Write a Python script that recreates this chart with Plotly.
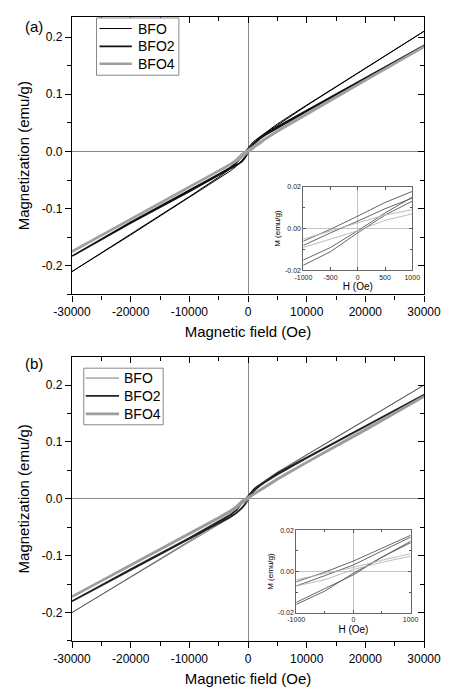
import plotly.graph_objects as go

# ---------------- data ----------------
H = [-30000, -20000, -10000, -5000, -3000, -2000, -1500, -1000, -500, 0,
     500, 1000, 1500, 2000, 3000, 5000, 10000, 20000, 30000]
series_names = ["BFO", "BFO2", "BFO4"]

# panel (a): descending / ascending branches (values at H, in ascending-H order)
a_bfo_desc = [-0.210, -0.144, -0.079, -0.045, -0.030, -0.021, -0.0135, -0.0060, -0.0003, 0.0060,
              0.0125, 0.0178, 0.022, 0.026, 0.033, 0.048, 0.081, 0.146, 0.210]
a_bfo_asc = [-0.210, -0.146, -0.081, -0.048, -0.034, -0.026, -0.021, -0.0150, -0.0090, -0.0010,
             0.0075, 0.0150, 0.020, 0.025, 0.032, 0.046, 0.080, 0.145, 0.210]
a_bfo2_desc = [-0.183, -0.124, -0.068, -0.040, -0.028, -0.020, -0.014, -0.0080, -0.0020, 0.0036,
               0.0095, 0.0146, 0.019, 0.023, 0.030, 0.043, 0.071, 0.128, 0.185]
a_bfo2_asc = [-0.183, -0.125, -0.070, -0.042, -0.031, -0.024, -0.021, -0.0175, -0.0110, -0.0020,
              0.0065, 0.0131, 0.018, 0.022, 0.029, 0.041, 0.070, 0.127, 0.185]
a_bfo4_desc = [-0.175, -0.118, -0.062, -0.034, -0.022, -0.015, -0.010, -0.0050, -0.0010, 0.0028,
               0.0065, 0.0091, 0.012, 0.016, 0.023, 0.036, 0.066, 0.125, 0.183]
a_bfo4_asc = [-0.175, -0.119, -0.063, -0.035, -0.024, -0.017, -0.013, -0.0090, -0.0050, -0.0010,
              0.0040, 0.0075, 0.011, 0.014, 0.022, 0.035, 0.065, 0.124, 0.183]

# panel (b)
b_bfo_desc = [-0.200, -0.137, -0.074, -0.042, -0.029, -0.020, -0.013, -0.0050, -0.0003, 0.0051,
              0.0115, 0.0176, 0.022, 0.026, 0.033, 0.047, 0.078, 0.139, 0.200]
b_bfo_asc = [-0.200, -0.138, -0.076, -0.045, -0.033, -0.025, -0.020, -0.0150, -0.0085, -0.0016,
             0.0070, 0.0147, 0.020, 0.024, 0.031, 0.045, 0.077, 0.138, 0.200]
b_bfo2_desc = [-0.180, -0.124, -0.069, -0.040, -0.028, -0.020, -0.014, -0.0070, -0.0020, 0.0032,
               0.0100, 0.0167, 0.021, 0.025, 0.031, 0.045, 0.073, 0.128, 0.183]
b_bfo2_asc = [-0.180, -0.125, -0.070, -0.043, -0.032, -0.025, -0.021, -0.0160, -0.0095, -0.0008,
              0.0070, 0.0140, 0.019, 0.023, 0.030, 0.043, 0.072, 0.127, 0.183]
b_bfo4_desc = [-0.172, -0.116, -0.061, -0.033, -0.021, -0.014, -0.009, -0.0040, -0.0010, 0.0020,
               0.0055, 0.0087, 0.012, 0.015, 0.022, 0.035, 0.065, 0.122, 0.180]
b_bfo4_asc = [-0.172, -0.117, -0.062, -0.034, -0.023, -0.016, -0.011, -0.0070, -0.0040, 0.0010,
              0.0045, 0.0080, 0.011, 0.014, 0.021, 0.034, 0.064, 0.121, 0.180]

x_ticks = [-30000, -20000, -10000, 0, 10000, 20000, 30000]
y_ticks = [-0.2, -0.1, 0.0, 0.1, 0.2]
inset_a_xticks = [-1000, -500, 0, 500, 1000]
inset_b_xticks = [-1000, 0, 1000]
inset_yticks = [-0.02, 0.0, 0.02]


def loop(desc, asc):
    return H[::-1] + H, desc[::-1] + asc


FONT = "Liberation Sans, Arial, sans-serif"

W, Ht = 453, 696
L, R, T, B = 72, 22, 15, 48
ph = Ht - T - B


def py(pix):
    return (Ht - B - pix) / ph


def px(pix):
    return (pix - L) / (W - L - R)


panels = [
    dict(xa="x", ya="y", xi="x3", yi="y3",
         data=[(a_bfo_desc, a_bfo_asc), (a_bfo2_desc, a_bfo2_asc), (a_bfo4_desc, a_bfo4_asc)],
         styles=[dict(color="#000000", width=1.0), dict(color="#111111", width=1.7), dict(color="#a0a0a0", width=2.6)],
         leg=dict(box=(97, 17, 181, 75), line=(100, 133), text=137, rows=(27.7, 45.7, 63.3))),
    dict(xa="x2", ya="y2", xi="x4", yi="y4",
         data=[(b_bfo_desc, b_bfo_asc), (b_bfo2_desc, b_bfo2_asc), (b_bfo4_desc, b_bfo4_asc)],
         styles=[dict(color="#555555", width=0.8), dict(color="#222222", width=1.8), dict(color="#9c9c9c", width=2.6)],
         leg=dict(box=(84, 371.7, 165, 429), line=(86, 120), text=123, rows=(381.7, 399.8, 418))),
]
inset_styles = [dict(color="#555555", width=0.9), dict(color="#555555", width=0.9), dict(color="#b4b4b4", width=0.9)]

fig = go.Figure()
shapes = []
annotations = []
for p in panels:
    lg = p["leg"]
    x0, y0, x1, y1 = lg["box"]
    shapes.append(dict(type="rect", xref="paper", yref="paper", x0=px(x0), x1=px(x1),
                       y0=py(y1), y1=py(y0), line=dict(color="#888888", width=1),
                       fillcolor="white", layer="above"))
    for name, (d, a), st, ist, ry in zip(series_names, p["data"], p["styles"], inset_styles, lg["rows"]):
        xx, yy = loop(d, a)
        fig.add_trace(go.Scatter(x=xx, y=yy, mode="lines", name=name, line=st, showlegend=False,
                                 xaxis=p["xa"], yaxis=p["ya"]))
        fig.add_trace(go.Scatter(x=xx, y=yy, mode="lines", line=ist, showlegend=False, name=name,
                                 xaxis=p["xi"], yaxis=p["yi"]))
        shapes.append(dict(type="line", xref="paper", yref="paper", x0=px(lg["line"][0]),
                           x1=px(lg["line"][1]), y0=py(ry), y1=py(ry),
                           line=dict(color=st["color"], width=st["width"]), layer="above"))
        annotations.append(dict(text=name, x=px(lg["text"]), y=py(ry), xref="paper", yref="paper",
                                xanchor="left", yanchor="middle", showarrow=False,
                                font=dict(size=14, color="black", family=FONT)))

# dummy traces for mirrored top/right axes with inward ticks
for xa, ya in [("x5", "y5"), ("x6", "y6")]:
    fig.add_trace(go.Scatter(x=[0], y=[0], mode="markers", marker=dict(opacity=0),
                             showlegend=False, hoverinfo="skip", xaxis=xa, yaxis=ya))


def fmt(v, nd):
    return f"{v:.{nd}f}"


dom_a = [py(297), py(16)]
dom_b = [0.0, py(360)]
xr = [-30000, 30000]
yr_a = [-0.25, 0.235]
yr_b = [-0.25, 0.25]

main_x = dict(range=xr, tickvals=x_ticks, ticktext=[str(v) for v in x_ticks], ticks="outside",
              ticklen=6, tickwidth=1, tickcolor="black", showline=True, linecolor="black",
              linewidth=1.2, showgrid=False, zeroline=True, zerolinecolor="#8a8a8a",
              zerolinewidth=1, tickfont=dict(size=12, color="black", family=FONT),
              minor=dict(tickvals=[-25000, -15000, -5000, 5000, 15000, 25000], ticks="outside",
                         ticklen=4, tickcolor="black", showgrid=False),
              title=dict(text="Magnetic field (Oe)", font=dict(size=15, color="black", family=FONT), standoff=8))
main_y = dict(tickvals=y_ticks, ticktext=[fmt(v, 1) for v in y_ticks], ticks="outside",
              ticklen=6, tickwidth=1, tickcolor="black", showline=True, linecolor="black",
              linewidth=1.2, showgrid=False, zeroline=True, zerolinecolor="#8a8a8a",
              zerolinewidth=1, tickfont=dict(size=12, color="black", family=FONT),
              minor=dict(tickvals=[-0.25, -0.15, -0.05, 0.05, 0.15], ticks="outside",
                         ticklen=4, tickcolor="black", showgrid=False),
              title=dict(text="Magnetization (emu/g)", font=dict(size=15, color="black", family=FONT), standoff=8))

mirror_x = dict(range=xr, tickvals=x_ticks, ticks="inside", ticklen=6, tickcolor="black",
                showticklabels=False, showline=True, linecolor="black", linewidth=1.2,
                showgrid=False, zeroline=False, side="top",
                minor=dict(tickvals=[-25000, -15000, -5000, 5000, 15000, 25000], ticks="inside",
                           ticklen=4, tickcolor="black", showgrid=False))
mirror_y = dict(tickvals=y_ticks, ticks="inside", ticklen=6, tickcolor="black",
                showticklabels=False, showline=True, linecolor="black", linewidth=1.2,
                showgrid=False, zeroline=False, side="right",
                minor=dict(tickvals=[-0.25, -0.15, -0.05, 0.05, 0.15], ticks="inside",
                           ticklen=4, tickcolor="black", showgrid=False))


def inset_x(ticks, minor):
    return dict(range=[-1000, 1000], tickvals=ticks, ticktext=[str(v) for v in ticks],
                ticks="inside", ticklen=3, tickcolor="#555", mirror="ticks", showline=True,
                linecolor="#666", linewidth=1, showgrid=False, zeroline=True,
                zerolinecolor="#c4c4c4", zerolinewidth=1,
                tickfont=dict(size=7, color="#222222", family=FONT),
                minor=dict(tickvals=minor, ticks="inside", ticklen=2, tickcolor="#555"),
                title=dict(text="H (Oe)", font=dict(size=10, color="black", family=FONT), standoff=3))


def inset_y():
    return dict(range=[-0.02, 0.02], tickvals=inset_yticks, ticktext=[fmt(v, 2) for v in inset_yticks],
                ticks="inside", ticklen=3, tickcolor="#555", mirror="ticks", showline=True,
                linecolor="#666", linewidth=1, showgrid=False, zeroline=True,
                zerolinecolor="#c4c4c4", zerolinewidth=1,
                tickfont=dict(size=7, color="#222222", family=FONT),
                minor=dict(tickvals=[-0.01, 0.01], ticks="inside", ticklen=2, tickcolor="#555"),
                title=dict(text="M (emu/g)", font=dict(size=8, color="black", family=FONT), standoff=3))


annotations += [
    dict(text="(a)", x=px(22), y=py(15), xref="paper", yref="paper", showarrow=False,
         font=dict(size=15, color="black", family=FONT)),
    dict(text="(b)", x=px(22), y=py(367), xref="paper", yref="paper", showarrow=False,
         font=dict(size=15, color="black", family=FONT)),
]

fig.update_layout(
    width=W, height=Ht,
    margin=dict(l=L, r=R, t=T, b=B),
    plot_bgcolor="white", paper_bgcolor="white",
    font=dict(family=FONT, color="black"),
    showlegend=False,
    xaxis=dict(main_x, domain=[0, 1], anchor="y"),
    yaxis=dict(main_y, domain=dom_a, anchor="x", range=yr_a),
    xaxis2=dict(main_x, domain=[0, 1], anchor="y2"),
    yaxis2=dict(main_y, domain=dom_b, anchor="x2", range=yr_b),
    xaxis5=dict(mirror_x, overlaying="x", anchor="y"),
    yaxis5=dict(mirror_y, overlaying="y", anchor="x", range=yr_a),
    xaxis6=dict(mirror_x, overlaying="x2", anchor="y2"),
    yaxis6=dict(mirror_y, overlaying="y2", anchor="x2", range=yr_b),
    xaxis3=dict(inset_x(inset_a_xticks, []), domain=[px(308), px(419)], anchor="y3"),
    yaxis3=dict(inset_y(), domain=[py(272.7), py(188)], anchor="x3"),
    xaxis4=dict(inset_x(inset_b_xticks, [-500, 500]), domain=[px(300.7), px(417.3)], anchor="y4"),
    yaxis4=dict(inset_y(), domain=[py(619.3), py(536)], anchor="x4"),
    shapes=shapes,
    annotations=annotations,
)

fig.write_html("out.html")
